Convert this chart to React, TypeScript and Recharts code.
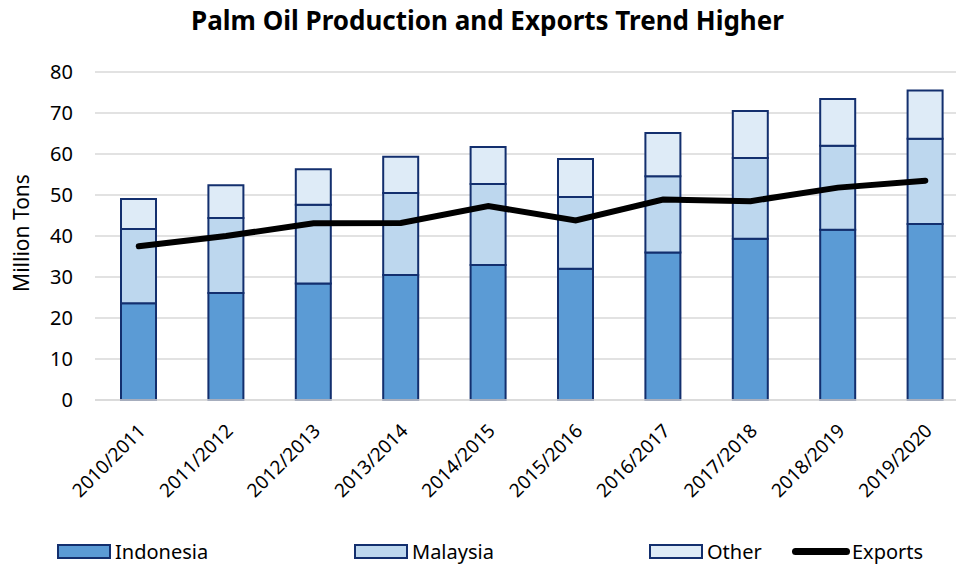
import React from "react";
import { ComposedChart, Bar, Line, XAxis, YAxis, CartesianGrid } from "recharts";

const seasons = ["2010/2011", "2011/2012", "2012/2013", "2013/2014", "2014/2015", "2015/2016", "2016/2017", "2017/2018", "2018/2019", "2019/2020"];
const indonesia = [23.6, 26.1, 28.4, 30.5, 32.9, 32.0, 36.0, 39.3, 41.5, 42.9];
const malaysia = [18.1, 18.3, 19.2, 20.0, 19.8, 17.5, 18.6, 19.7, 20.5, 20.8];
const other = [7.3, 8.0, 8.7, 8.8, 9.0, 9.3, 10.5, 11.5, 11.4, 11.8];
const exportsTons = [37.5, 40.0, 43.1, 43.2, 47.3, 43.8, 48.9, 48.5, 51.8, 53.5];
const yTicks = [0, 10, 20, 30, 40, 50, 60, 70, 80];

const data = seasons.map((s, i) => ({
  season: s,
  indonesia: indonesia[i],
  malaysia: malaysia[i],
  other: other[i],
  exports: exportsTons[i],
}));

const FONT = "'Noto Sans', 'Open Sans', sans-serif";
const EDGE = "#132f6e";

const XTick = ({ x, y, payload }: any) => (
  <text x={x + 8} y={y + 24} textAnchor="end" transform={`rotate(-45 ${x + 8} ${y + 24})`}
    fontSize={19} fill="#000" fontFamily={FONT}>{payload.value}</text>
);

const legendItems = [
  { label: "Indonesia", color: "#5b9bd5", left: 57 },
  { label: "Malaysia", color: "#bdd7ee", left: 354 },
  { label: "Other", color: "#deebf7", left: 649 },
];

export default function App() {
  return (
    <div style={{ position: "absolute", left: 0, top: 0, width: 956, height: 564, overflow: "hidden", background: "#fff", fontFamily: FONT }}>
      <div style={{ position: "absolute", left: 0, top: 2, width: 975, textAlign: "center", fontSize: 26, fontWeight: 700 }}>
        Palm Oil Production and Exports Trend Higher
      </div>
      <div style={{ position: "absolute", left: 21, top: 233, transform: "translate(-50%, -50%) rotate(-90deg)", fontSize: 21, whiteSpace: "nowrap" }}>
        Million Tons
      </div>
      <ComposedChart width={975} height={564} data={data} margin={{ top: 72, right: 6, left: 0, bottom: 64 }}>
        <CartesianGrid vertical={false} stroke="#d9d9d9" strokeWidth={1.5} />
        <XAxis dataKey="season" height={100} interval={0} tick={<XTick />} tickLine={false} axisLine={{ stroke: "#d9d9d9", strokeWidth: 1.5 }} />
        <YAxis width={95} domain={[0, 80]} ticks={yTicks} tickLine={false} axisLine={false}
          tick={{ fontSize: 20, fill: "#000", fontFamily: FONT }} tickMargin={16} />
        <Bar dataKey="indonesia" stackId="a" fill="#5b9bd5" stroke={EDGE} strokeWidth={2} barSize={35} isAnimationActive={false} />
        <Bar dataKey="malaysia" stackId="a" fill="#bdd7ee" stroke={EDGE} strokeWidth={2} barSize={35} isAnimationActive={false} />
        <Bar dataKey="other" stackId="a" fill="#deebf7" stroke={EDGE} strokeWidth={2} barSize={35} isAnimationActive={false} />
        <Line dataKey="exports" type="linear" stroke="#000" strokeWidth={6} strokeLinecap="round" dot={false} isAnimationActive={false} />
      </ComposedChart>
      {legendItems.map((it) => (
        <div key={it.label} style={{ position: "absolute", left: it.left, top: 537, height: 28, display: "flex", alignItems: "center", fontSize: 20 }}>
          <span style={{ display: "inline-block", boxSizing: "border-box", width: 54, height: 15, background: it.color, border: `2px solid ${EDGE}`, marginRight: 4 }} />
          {it.label}
        </div>
      ))}
      <div style={{ position: "absolute", left: 792, top: 537, height: 28, display: "flex", alignItems: "center", fontSize: 20 }}>
        <span style={{ display: "inline-block", width: 58, height: 7, background: "#000", borderRadius: 4, marginRight: 2 }} />
        Exports
      </div>
    </div>
  );
}
